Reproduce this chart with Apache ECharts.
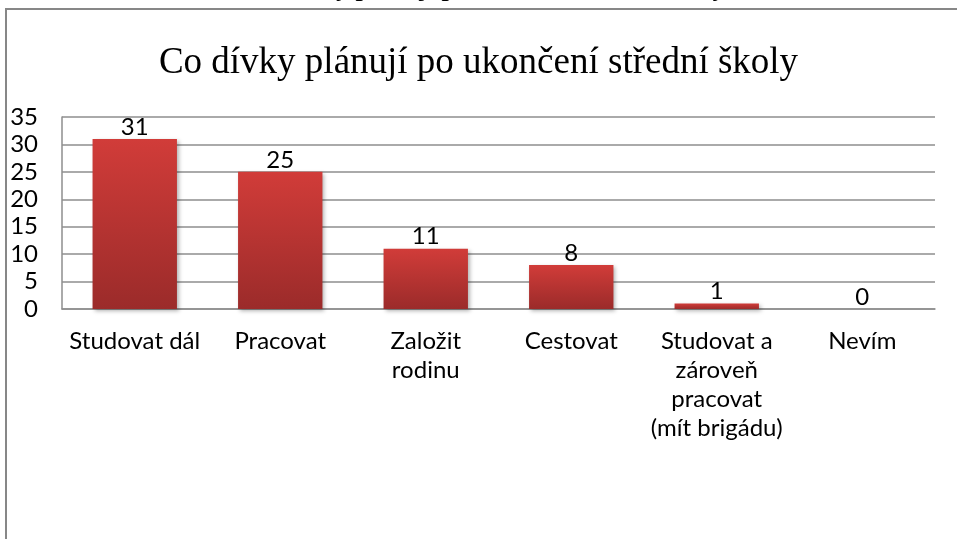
<!DOCTYPE html>
<html>
<head>
<meta charset="utf-8">
<script src="https://cdn.jsdelivr.net/npm/echarts@6/dist/echarts.min.js"></script>
<style>
  html, body { margin: 0; padding: 0; background: #fff; }
  #chart { width: 957px; height: 539px; }
</style>
</head>
<body>
<div id="chart"></div>
<script>
// data
const categories = ["Studovat dál", "Pracovat", "Založit\nrodinu", "Cestovat", "Studovat a\nzároveň\npracovat\n(mít brigádu)", "Nevím"];
const values = [31, 25, 11, 8, 1, 0];
const yTicks = { min: 0, max: 35, interval: 5 };

const chart = echarts.init(document.getElementById("chart"));
const font = "Lato, 'Open Sans', sans-serif";

const option = {
  backgroundColor: "#fff",
  animation: false,
  graphic: [
    // outer chart frame (runs off the right / bottom edge)
    {
      type: "rect",
      shape: { x: 6, y: 9, width: 1000, height: 600 },
      style: { fill: "none", stroke: "#878787", lineWidth: 2 },
      z: 0
    },
    // heading above the frame, mostly cut off
    {
      type: "text",
      left: 180,
      top: -24,
      style: {
        text: "Graf: Co dívky plánují po ukončení střední školy",
        font: "bold 26px 'Liberation Serif', serif",
        fill: "#000"
      }
    }
  ],
  title: {
    text: "Co dívky plánují po ukončení střední školy",
    left: "center",
    top: 40,
    textStyle: {
      fontFamily: "'Liberation Serif', serif",
      fontWeight: "normal",
      fontSize: 37,
      color: "#000"
    }
  },
  grid: { left: 62, right: 22, top: 117, bottom: 230 },
  xAxis: {
    type: "category",
    data: categories,
    axisLine: { show: true, lineStyle: { color: "#8e8e8e", width: 1.5 } },
    axisTick: { show: false },
    axisLabel: {
      color: "#000",
      fontFamily: font,
      fontSize: 24,
      lineHeight: 29,
      margin: 18,
      interval: 0
    }
  },
  yAxis: {
    type: "value",
    min: yTicks.min,
    max: yTicks.max,
    interval: yTicks.interval,
    axisLine: { show: true, lineStyle: { color: "#8e8e8e", width: 1.5 } },
    axisTick: { show: false },
    splitLine: { lineStyle: { color: "#8e8e8e", width: 1.5 } },
    axisLabel: {
      color: "#000",
      fontFamily: font,
      fontSize: 24,
      margin: 24
    }
  },
  series: [
    {
      type: "bar",
      data: values,
      barWidth: "58%",
      itemStyle: {
        color: new echarts.graphic.LinearGradient(0, 0, 0, 1, [
          { offset: 0, color: "#d13c39" },
          { offset: 1, color: "#9b2b2a" }
        ]),
        shadowBlur: 4,
        shadowColor: "rgba(0,0,0,0.3)",
        shadowOffsetX: 2,
        shadowOffsetY: 2
      },
      label: {
        show: true,
        position: "top",
        distance: 0,
        color: "#000",
        fontFamily: font,
        fontSize: 24
      }
    }
  ]
};

chart.setOption(option);
</script>
</body>
</html>
